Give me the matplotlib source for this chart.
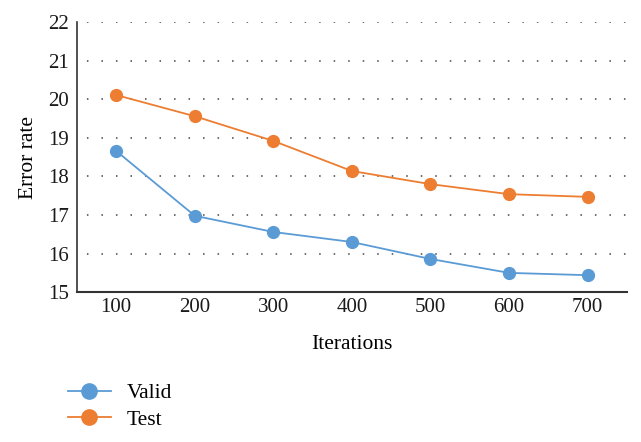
import matplotlib

matplotlib.use("Agg")
import matplotlib.pyplot as plt
from matplotlib.lines import Line2D

iterations = [100, 200, 300, 400, 500, 600, 700]
valid = [18.66, 16.98, 16.56, 16.30, 15.86, 15.50, 15.44]
test = [20.11, 19.56, 18.92, 18.14, 17.80, 17.54, 17.47]
series_names = ["Valid", "Test"]
y_ticks = [15, 16, 17, 18, 19, 20, 21, 22]

blue = "#5B9BD5"
orange = "#ED7D31"

plt.rcParams["font.family"] = ["Liberation Serif", "DejaVu Serif"]

fig = plt.figure(figsize=(6.41, 4.42), dpi=100)
ax = fig.add_axes([0.120, 0.339, 0.858, 0.611])

ax.plot(iterations, valid, color=blue, marker="o", markersize=8.5, linewidth=1.3, zorder=3)
ax.plot(iterations, test, color=orange, marker="o", markersize=8.5, linewidth=1.3, zorder=3)

ax.set_xlim(50, 750)
ax.set_ylim(15, 22)
ax.set_xticks(iterations)
ax.set_yticks(y_ticks)
ax.tick_params(length=0, labelsize=15, colors="#1a1a1a")
ax.tick_params(axis="x", pad=4)
ax.tick_params(axis="y", pad=6)
for y in y_ticks[1:]:
    ax.axhline(y, color="#444444", linestyle=(3, (1, 8.5)), linewidth=1.1, zorder=1)

for side in ["top", "right"]:
    ax.spines[side].set_visible(False)
ax.spines["left"].set_color("#333333")
ax.spines["bottom"].set_color("#333333")
ax.spines["left"].set_linewidth(1.2)
ax.spines["bottom"].set_linewidth(1.5)

ax.set_xlabel("Iterations", fontsize=15.5, labelpad=13)
ax.set_ylabel("Error rate", fontsize=15.5, labelpad=7)

handles = [
    Line2D([], [], color=blue, marker="o", markersize=11, linewidth=1.3),
    Line2D([], [], color=orange, marker="o", markersize=11, linewidth=1.3),
]
fig.legend(handles, series_names, loc="upper left", bbox_to_anchor=(0.092, 0.152),
           frameon=False, fontsize=15.5, handlelength=2.0, handletextpad=0.75,
           labelspacing=0.3, borderaxespad=0)

fig.savefig("out.png", dpi=100)
